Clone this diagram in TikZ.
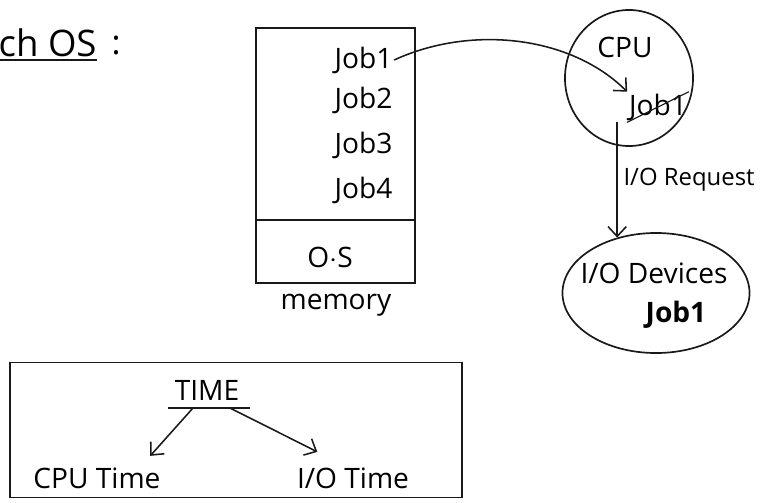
\documentclass[tikz,border=0pt]{standalone}
\usepackage{fontspec}
\setmainfont{Open Sans}
\usetikzlibrary{shapes.geometric, shapes.misc, arrows.meta, positioning}

\begin{document}
\begin{tikzpicture}[
        x=0.025cm, y=-0.025cm,
        hand/.style={font=\fontsize{20}{23}\selectfont, inner sep=1pt},
        memo/.style={rectangle, draw=black!90, line width=1.2pt},
        blob/.style={ellipse, draw=black!90, line width=1.2pt, inner sep=0pt},
        arr/.style={-{Straight Barb[length=7pt, width=13pt, line width=1.1pt]}, line width=1.1pt, draw=black!90},
        rule/.style={line width=1.2pt, draw=black!90}
    ]
    \useasboundingbox (0,0) rectangle (776,502);
    % heading
    \node[hand, anchor=west, font=\fontsize{26}{28}\selectfont] (title) at (-3,43) {ch OS};
    \draw[rule] (0,60) -- (97,60);
    \node[hand, font=\fontsize{24}{26}\selectfont] (colon) at (116,45) {:};
    % main memory
    \node[memo, minimum width=3.975cm, minimum height=6.375cm] (mem) at (335.5,155.5) {};
    \draw[rule] (256,220) -- (415,220);
    \node[hand, anchor=west] (job1) at (333,60) {Job1};
    \node[hand, anchor=west] (job2) at (333,100) {Job2};
    \node[hand, anchor=west] (job3) at (333,145) {Job3};
    \node[hand, anchor=west] (job4) at (333,190) {Job4};
    \node[hand] (os) at (330,257) {O$\cdot$S};
    \node[hand] (memlbl) at (336,305) {memory};
    % processor
    \node[blob, minimum width=3.2cm, minimum height=3.4cm] (cpu) at (629,78) {};
    \node[hand] (cpulbl) at (625,47) {CPU};
    \node[hand, strike out, draw=black!90, thick] (cpujob) at (658,107) {Job1};
    % devices
    \node[blob, minimum width=4.675cm, minimum height=3cm] (iodev) at (656,293) {};
    \node[hand] (iolbl) at (654,273) {I/O Devices};
    \node[hand, font=\fontsize{20}{23}\selectfont\bfseries] (iojob) at (676,315) {Job1};
    \draw[arr] (job1.east) .. controls (470,25) and (570,35) .. (cpujob.north west);
    \draw[arr] (iodev.125 |- cpujob.south) -- (iodev.125)
        node[midway, right=3pt, hand, font=\fontsize{17}{20}\selectfont] {I/O Request};
    % time split
    \node[memo, minimum width=11.3cm, minimum height=3.375cm] (tbox) at (236,430) {};
    \node[hand] (time) at (207,390) {TIME};
    \draw[rule] (168,408) -- (250,408);
    \node[hand] (cputime) at (97,478) {CPU Time};
    \node[hand] (iotime) at (353,478) {I/O Time};
    \draw[arr] (193,408) -- ([xshift=-0.3cm, yshift=0.25cm]cputime.north east);
    \draw[arr] (230,408) -- ([xshift=0.55cm, yshift=0.35cm]iotime.north west);
\end{tikzpicture}
\end{document}
